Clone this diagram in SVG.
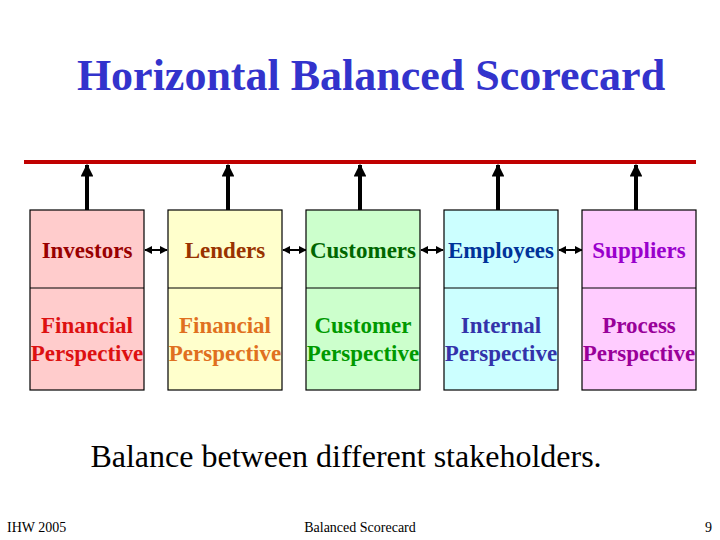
<svg xmlns="http://www.w3.org/2000/svg" width="720" height="540" viewBox="0 0 720 540" font-family="'Liberation Serif', 'Times New Roman', serif">
<defs>
<style>
.b{font-weight:bold;font-size:23px;text-anchor:middle;}
.box{stroke:#000;stroke-width:1.2;}
.up{stroke:#000;stroke-width:4;fill:none;}
.bi{stroke:#000;stroke-width:2;fill:none;}
.ft{font-size:14px;fill:#000;}
</style>
<marker id="ah" viewBox="0 0 10 10" refX="9" refY="5" markerWidth="3.2" markerHeight="3.2" orient="auto"><path d="M0,0L10,5L0,10z" fill="#000"/></marker>
<marker id="sh" viewBox="0 0 10 10" refX="9" refY="5" markerWidth="4" markerHeight="4" orient="auto-start-reverse"><path d="M0,0L10,5L0,10z" fill="#000"/></marker>
</defs>
<rect width="720" height="540" fill="#fff"/>
<text x="371" y="90" font-family="'Liberation Serif', serif" font-size="44" font-weight="bold" fill="#3333CC" text-anchor="middle">Horizontal Balanced Scorecard</text>
<g id="connectors">
<line x1="24" y1="162" x2="696" y2="162" stroke="#C00000" stroke-width="4"/>
<line class="up" x1="87" y1="210" x2="87" y2="165" marker-end="url(#ah)"/>
<line class="up" x1="228" y1="210" x2="228" y2="165" marker-end="url(#ah)"/>
<line class="up" x1="360" y1="210" x2="360" y2="165" marker-end="url(#ah)"/>
<line class="up" x1="498" y1="210" x2="498" y2="165" marker-end="url(#ah)"/>
<line class="up" x1="636" y1="210" x2="636" y2="165" marker-end="url(#ah)"/>
<line class="bi" x1="145" y1="250" x2="167" y2="250" marker-start="url(#sh)" marker-end="url(#sh)"/>
<line class="bi" x1="283" y1="250" x2="306" y2="250" marker-start="url(#sh)" marker-end="url(#sh)"/>
<line class="bi" x1="421" y1="250" x2="443" y2="250" marker-start="url(#sh)" marker-end="url(#sh)"/>
<line class="bi" x1="559" y1="250" x2="582" y2="250" marker-start="url(#sh)" marker-end="url(#sh)"/>
</g>
<g id="investors" font-family="'Liberation Serif', serif">
<rect class="box" x="30" y="210" width="114" height="180" fill="#FFCCCC"/>
<line x1="30" y1="288" x2="144" y2="288" stroke="#000" stroke-width="1.2"/>
<text class="b" x="87" y="258" fill="#990000">Investors</text>
<text class="b" x="87" y="333" fill="#DD1111">Financial</text>
<text class="b" x="87" y="361" fill="#DD1111">Perspective</text>
</g>
<g id="lenders" font-family="'Liberation Serif', serif">
<rect class="box" x="168" y="210" width="114" height="180" fill="#FFFFCC"/>
<line x1="168" y1="288" x2="282" y2="288" stroke="#000" stroke-width="1.2"/>
<text class="b" x="225" y="258" fill="#993300">Lenders</text>
<text class="b" x="225" y="333" fill="#E07020">Financial</text>
<text class="b" x="225" y="361" fill="#E07020">Perspective</text>
</g>
<g id="customers" font-family="'Liberation Serif', serif">
<rect class="box" x="306" y="210" width="114" height="180" fill="#CCFFCC"/>
<line x1="306" y1="288" x2="420" y2="288" stroke="#000" stroke-width="1.2"/>
<text class="b" x="363" y="258" fill="#006600">Customers</text>
<text class="b" x="363" y="333" fill="#009900">Customer</text>
<text class="b" x="363" y="361" fill="#009900">Perspective</text>
</g>
<g id="employees" font-family="'Liberation Serif', serif">
<rect class="box" x="444" y="210" width="114" height="180" fill="#CCFFFF"/>
<line x1="444" y1="288" x2="558" y2="288" stroke="#000" stroke-width="1.2"/>
<text class="b" x="501" y="258" fill="#003399">Employees</text>
<text class="b" x="501" y="333" fill="#3333AA">Internal</text>
<text class="b" x="501" y="361" fill="#3333AA">Perspective</text>
</g>
<g id="suppliers" font-family="'Liberation Serif', serif">
<rect class="box" x="582" y="210" width="114" height="180" fill="#FFCCFF"/>
<line x1="582" y1="288" x2="696" y2="288" stroke="#000" stroke-width="1.2"/>
<text class="b" x="639" y="258" fill="#9900CC">Suppliers</text>
<text class="b" x="639" y="333" fill="#990099">Process</text>
<text class="b" x="639" y="361" fill="#990099">Perspective</text>
</g>
<text x="346" y="467" font-family="'Liberation Serif', serif" font-size="32" fill="#000" text-anchor="middle">Balance between different stakeholders.</text>
<text class="ft" x="7" y="532" font-family="'Liberation Serif', serif">IHW 2005</text>
<text class="ft" x="360" y="532" font-family="'Liberation Serif', serif" text-anchor="middle">Balanced Scorecard</text>
<text class="ft" x="712" y="532" font-family="'Liberation Serif', serif" text-anchor="end">9</text>
</svg>
